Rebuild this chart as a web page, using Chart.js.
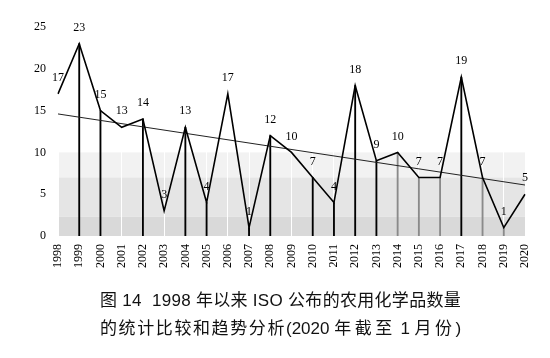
<!DOCTYPE html>
<html>
<head>
<meta charset="utf-8">
<script src="https://cdn.jsdelivr.net/npm/chart.js@4/dist/chart.umd.min.js"></script>
<style>
  html, body { margin: 0; padding: 0; background: #fff; }
  #wrap { position: relative; width: 550px; height: 358px; }
  #c { position: absolute; left: 0; top: 0; }
  #cap { position: absolute; left: 100px; top: 287px; font-family: "Liberation Sans", "Noto Sans CJK SC", sans-serif; font-size: 17px; line-height: 28px; color: #111; white-space: nowrap; }
  #l1 { letter-spacing: 0.3px; }
  .s1 { letter-spacing: 1.6px; }
  .s2 { letter-spacing: 3.5px; }
</style>
</head>
<body>
<div id="wrap">
  <canvas id="c" width="550" height="358"></canvas>
  <div id="cap"><span id="l1">图 14&nbsp; 1998 年以来 ISO 公布的农用化学品数量</span><br><span class="s1">的统计比较和趋势分析</span>(2020 <span class="s2">年截至</span> 1 <span class="s2">月份</span>)</div>
</div>
<script>
const years = ['1998','1999','2000','2001','2002','2003','2004','2005','2006','2007','2008','2009','2010','2011','2012','2013','2014','2015','2016','2017','2018','2019','2020'];
const counts = [17,23,15,13,14,3,13,4,17,1,12,10,7,4,18,9,10,7,7,19,7,1,5];
const trendStartEnd = [14.6, 6.1];
const bandLevels = [10, 7, 2.3];
const yTicks = [0, 5, 10, 15, 20, 25];

const blackDrops = ['1999','2000','2002','2004','2005','2007','2008','2010','2011','2012','2013','2017'];
const grayDrops = ['2014','2015','2016','2018','2019'];

const trend = years.map((_, i) => i === 0 ? trendStartEnd[0] : (i === years.length - 1 ? trendStartEnd[1] : null));

const bandPlugin = {
  id: 'bands',
  beforeDraw(chart) {
    const { ctx, chartArea, scales } = chart;
    const y = scales.y;
    const colors = ['#f2f2f2', '#e5e5e5', '#d9d9d9'];
    const levels = bandLevels.concat([0]);
    ctx.save();
    for (let i = 0; i < 3; i++) {
      const top = y.getPixelForValue(levels[i]);
      const bot = y.getPixelForValue(levels[i + 1]);
      ctx.fillStyle = colors[i];
      ctx.fillRect(chartArea.left, top, chartArea.right - chartArea.left, bot - top);
    }
    ctx.restore();
  }
};

const labelPlugin = {
  id: 'vlabels',
  afterDatasetsDraw(chart) {
    const meta = chart.getDatasetMeta(0);
    const ctx = chart.ctx;
    ctx.save();
    ctx.font = '12px "Liberation Serif", serif';
    ctx.fillStyle = '#000';
    ctx.textAlign = 'center';
    ctx.textBaseline = 'middle';
    meta.data.forEach((pt, i) => {
      ctx.fillText(String(counts[i]), pt.x, pt.y - 16);
    });
    ctx.restore();
  }
};

new Chart(document.getElementById('c'), {
  type: 'line',
  data: {
    labels: years,
    datasets: [
      {
        type: 'line',
        data: counts,
        borderColor: '#000',
        borderWidth: 1.6,
        pointRadius: 0,
        tension: 0,
        order: 1
      },
      {
        type: 'line',
        data: trend,
        spanGaps: true,
        borderColor: '#222',
        borderWidth: 1,
        pointRadius: 0,
        tension: 0,
        order: 2
      },
      {
        type: 'bar',
        data: counts,
        barThickness: 1.2,
        backgroundColor: years.map(yr => blackDrops.includes(yr) ? '#000' : (grayDrops.includes(yr) ? '#8a8a8a' : 'rgba(0,0,0,0)')),
        borderWidth: 0,
        order: 3
      }
    ]
  },
  options: {
    responsive: false,
    animation: false,
    events: [],
    layout: { padding: { left: 0, right: 25, top: 27, bottom: 82 } },
    plugins: { legend: { display: false }, tooltip: { enabled: false }, title: { display: false } },
    scales: {
      x: {
        type: 'category',
        offset: false,
        grid: { display: true, offset: false, color: '#ffffff', lineWidth: 1, drawTicks: false },
        border: { display: false },
        ticks: {
          color: '#000',
          font: { family: '"Liberation Serif", serif', size: 12 },
          minRotation: 90, maxRotation: 90, padding: 8, autoSkip: false
        },
        afterFit(scale) { scale.height = 40; }
      },
      y: {
        min: 0, max: 25,
        afterBuildTicks(scale) { scale.ticks = yTicks.map(v => ({ value: v })); },
        grid: { display: false, drawTicks: false },
        border: { display: false },
        ticks: {
          color: '#000',
          font: { family: '"Liberation Serif", serif', size: 12 },
          padding: 12
        },
        afterFit(scale) { scale.width = 58; }
      }
    }
  },
  plugins: [bandPlugin, labelPlugin]
});
</script>
</body>
</html>
